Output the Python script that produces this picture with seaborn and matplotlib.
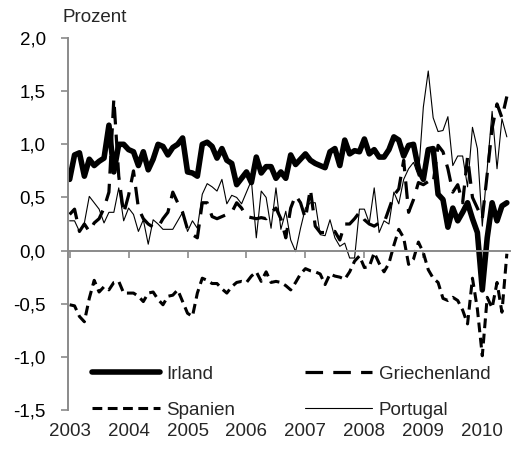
import numpy as np
import seaborn as sns
import matplotlib.pyplot as plt
from matplotlib.transforms import blended_transform_factory

# monthly values, Jan 2003 - Jun 2010 (Prozent)
irland = [0.67, 0.90, 0.92, 0.70, 0.86, 0.80, 0.84, 0.87, 1.18, 0.74,
          1.00, 1.00, 0.95, 0.93, 0.80, 0.93, 0.76, 0.86, 1.00, 0.98,
          0.90, 0.97, 1.00, 1.06, 0.74, 0.73, 0.70, 1.00, 1.02, 0.98,
          0.87, 0.96, 0.85, 0.82, 0.62, 0.68, 0.74, 0.64, 0.88, 0.73,
          0.79, 0.79, 0.68, 0.74, 0.68, 0.90, 0.81, 0.86, 0.91, 0.85,
          0.82, 0.80, 0.78, 0.93, 0.96, 0.80, 1.04, 0.91, 0.94, 0.93,
          1.05, 0.91, 0.95, 0.88, 0.88, 0.95, 1.07, 1.04, 0.89, 0.99,
          1.00, 0.77, 0.67, 0.95, 0.96, 0.53, 0.48, 0.22, 0.40, 0.28,
          0.36, 0.45, 0.30, 0.17, -0.37, 0.12, 0.45, 0.28, 0.42, 0.45]
griechenland = [0.34, 0.39, 0.18, 0.25, 0.18, 0.26, 0.30, 0.40, 0.55, 1.43,
                0.70, 0.35, 0.52, 0.75, 0.40, 0.30, 0.25, 0.22, 0.22, 0.30,
                0.36, 0.55, 0.45, 0.36, 0.20, 0.15, 0.12, 0.45, 0.45, 0.32,
                0.30, 0.32, 0.34, 0.36, 0.45, 0.40, 0.32, 0.31, 0.30, 0.31,
                0.30, 0.36, 0.40, 0.30, 0.12, 0.40, 0.52, 0.45, 0.30, 0.58,
                0.23, 0.17, 0.17, 0.18, 0.18, 0.10, 0.25, 0.25, 0.30, 0.36,
                0.29, 0.25, 0.23, 0.26, 0.26, 0.39, 0.52, 0.58, 0.85, 0.36,
                0.48, 0.64, 0.62, 0.65, 0.63, 0.99, 0.93, 0.77, 0.55, 0.62,
                0.45, 0.88, 0.50, 0.40, 0.30, 0.72, 1.15, 1.38, 1.25, 1.45]
spanien = [-0.51, -0.52, -0.62, -0.67, -0.45, -0.28, -0.39, -0.34, -0.37, -0.30,
           -0.29, -0.40, -0.40, -0.40, -0.43, -0.48, -0.40, -0.39, -0.46, -0.51,
           -0.43, -0.42, -0.37, -0.48, -0.59, -0.62, -0.40, -0.26, -0.28, -0.31,
           -0.31, -0.36, -0.40, -0.34, -0.30, -0.29, -0.30, -0.24, -0.20, -0.29,
           -0.20, -0.30, -0.29, -0.30, -0.33, -0.37, -0.30, -0.22, -0.17, -0.19,
           -0.20, -0.22, -0.32, -0.22, -0.24, -0.25, -0.27, -0.20, -0.10, -0.05,
           -0.16, -0.15, -0.02, -0.12, -0.20, -0.12, 0.05, 0.20, 0.12, -0.13,
           -0.08, 0.08, -0.02, -0.18, -0.26, -0.30, -0.45, -0.47, -0.44, -0.47,
           -0.56, -0.69, -0.26, -0.55, -0.99, -0.44, -0.54, -0.30, -0.58, -0.03]
portugal = [0.28, 0.28, 0.18, 0.26, 0.51, 0.45, 0.39, 0.26, 0.36, 0.36,
            0.59, 0.28, 0.40, 0.34, 0.18, 0.29, 0.06, 0.29, 0.25, 0.20,
            0.20, 0.20, 0.28, 0.36, 0.18, 0.28, 0.21, 0.53, 0.63, 0.60,
            0.56, 0.67, 0.44, 0.52, 0.50, 0.44, 0.55, 0.66, 0.12, 0.56,
            0.50, 0.21, 0.59, 0.20, 0.37, 0.10, -0.01, 0.21, 0.40, 0.45,
            0.45, 0.15, 0.14, 0.29, 0.12, 0.04, 0.07, -0.07, -0.07, 0.39,
            0.39, 0.26, 0.59, 0.17, 0.28, 0.25, 0.55, 0.44, 0.67, 0.77,
            0.83, 0.70, 1.35, 1.69, 1.25, 1.12, 1.13, 1.26, 0.80, 0.89,
            0.89, 0.60, 1.16, 0.96, 0.23, 0.77, 1.31, 0.77, 1.24, 1.07]

year_ticks = [2003, 2004, 2005, 2006, 2007, 2008, 2009, 2010]
y_ticks = [-1.5, -1.0, -0.5, 0.0, 0.5, 1.0, 1.5, 2.0]
t = 2003 + np.arange(len(irland)) / 12.0

sns.set_theme(style='white')
plt.rcParams['font.family'] = ['Liberation Sans', 'DejaVu Sans']
fs = 13.5
gray = '#8a8a8a'

fig, ax = plt.subplots(figsize=(5.22, 4.53), dpi=100)
fig.subplots_adjust(left=0.130, right=0.977, bottom=0.095, top=0.916)

styles = [('Irland', irland, 4.0, '-'),
          ('Spanien', spanien, 2.2, (0, (3.2, 1.8))),
          ('Griechenland', griechenland, 2.3, (0, (5.5, 3.2))),
          ('Portugal', portugal, 0.8, '-')]
for name, vals, lw, ls in styles:
    sns.lineplot(x=t, y=vals, ax=ax, color='black', linewidth=lw,
                 linestyle=ls, label=name)

ax.set_xlim(2002.97, 2010.47)
ax.set_ylim(-1.5, 2.0)
ax.set_xticks(year_ticks)
ax.set_yticks(y_ticks)
ax.set_yticklabels([f'{v:.1f}'.replace('.', ',') for v in y_ticks], fontsize=fs)
ax.set_xlabel('')
ax.set_ylabel('')

for s in ['top', 'right']:
    ax.spines[s].set_visible(False)
ax.spines['bottom'].set_position(('data', 0))
for s in ['bottom', 'left']:
    ax.spines[s].set_color(gray)
    ax.spines[s].set_linewidth(1.4)
ax.tick_params(axis='x', bottom=True, direction='out', length=5, width=1.2,
               color=gray, labelbottom=False)
ax.tick_params(axis='y', left=True, direction='out', length=5, width=1.2,
               color=gray, pad=11, labelcolor='black')

trans = blended_transform_factory(ax.transData, ax.transAxes)
for yr in year_ticks:
    ax.text(yr, -0.059, str(yr), transform=trans, ha='center', va='center',
            fontsize=fs)

fig.text(62 / 522, 1 - 18 / 453, 'Prozent', ha='left', va='center', fontsize=fs)

handles, labels = ax.get_legend_handles_labels()
ax.legend(handles, labels, ncol=2, frameon=False, fontsize=fs,
          handlelength=3.6, columnspacing=3.7, labelspacing=1.0,
          handletextpad=0.35, borderpad=0, loc='center',
          bbox_to_anchor=(0.505, 0.048))

plt.savefig('out.png', dpi=100)
plt.close()
